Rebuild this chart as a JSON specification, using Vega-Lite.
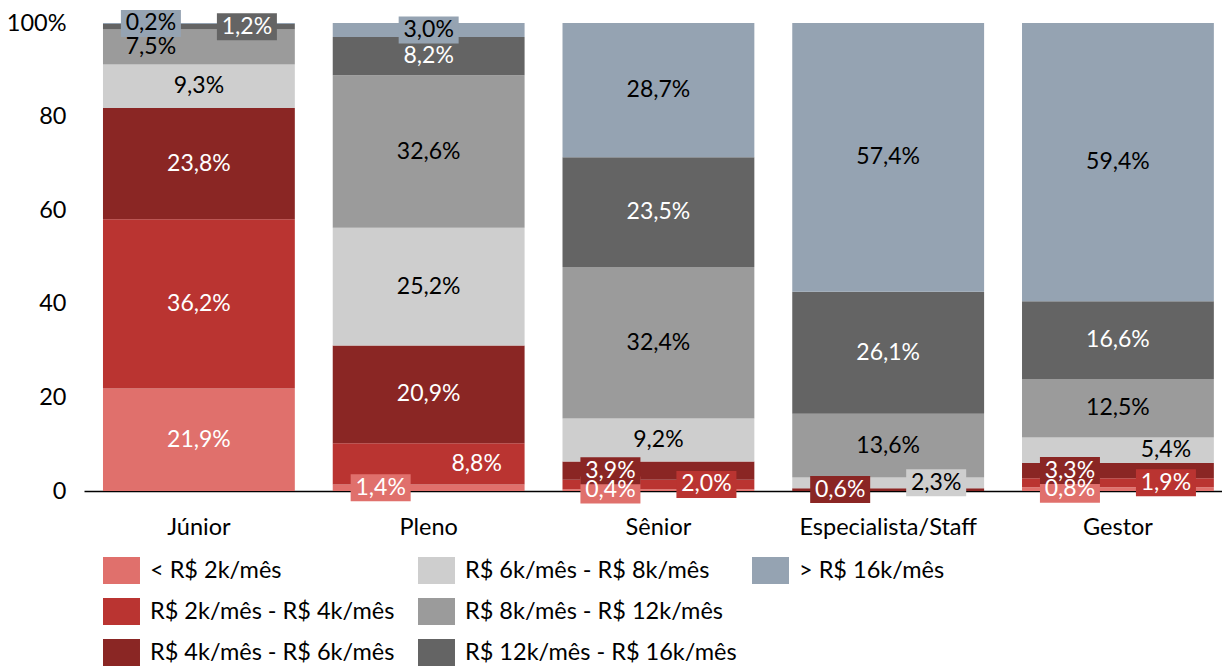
{
  "$schema": "https://vega.github.io/schema/vega-lite/v6.json",
  "autosize": {"type": "none"},
  "padding": {"left": 84, "top": 23, "right": 0, "bottom": 175},
  "width": 1138,
  "height": 468,
  "config": {
    "view": {"stroke": null},
    "font": "Lato",
    "axis": {"labelColor": "#000000", "labelFont": "Lato", "grid": false, "ticks": false, "title": null},
    "legend": {
      "orient": "none",
      "direction": "vertical",
      "title": null,
      "labelFont": "Lato",
      "labelFontSize": 23.5,
      "labelColor": "#000000",
      "labelLimit": 500,
      "symbolType": "M-1.37,-1H1.37V1H-1.37Z",
      "symbolSize": 729,
      "symbolStrokeWidth": 0,
      "symbolOpacity": 1,
      "labelOffset": 15,
      "rowPadding": 14,
      "padding": 0
    }
  },
  "data": {
    "values": [
      {"nivel": "Júnior", "faixa": "< R$ 2k/mês", "pct": 21.9},
      {"nivel": "Júnior", "faixa": "R$ 2k/mês - R$ 4k/mês", "pct": 36.2},
      {"nivel": "Júnior", "faixa": "R$ 4k/mês - R$ 6k/mês", "pct": 23.8},
      {"nivel": "Júnior", "faixa": "R$ 6k/mês - R$ 8k/mês", "pct": 9.3},
      {"nivel": "Júnior", "faixa": "R$ 8k/mês - R$ 12k/mês", "pct": 7.5},
      {"nivel": "Júnior", "faixa": "R$ 12k/mês - R$ 16k/mês", "pct": 1.2},
      {"nivel": "Júnior", "faixa": "> R$ 16k/mês", "pct": 0.2},
      {"nivel": "Pleno", "faixa": "< R$ 2k/mês", "pct": 1.4},
      {"nivel": "Pleno", "faixa": "R$ 2k/mês - R$ 4k/mês", "pct": 8.8},
      {"nivel": "Pleno", "faixa": "R$ 4k/mês - R$ 6k/mês", "pct": 20.9},
      {"nivel": "Pleno", "faixa": "R$ 6k/mês - R$ 8k/mês", "pct": 25.2},
      {"nivel": "Pleno", "faixa": "R$ 8k/mês - R$ 12k/mês", "pct": 32.6},
      {"nivel": "Pleno", "faixa": "R$ 12k/mês - R$ 16k/mês", "pct": 8.2},
      {"nivel": "Pleno", "faixa": "> R$ 16k/mês", "pct": 3.0},
      {"nivel": "Sênior", "faixa": "< R$ 2k/mês", "pct": 0.4},
      {"nivel": "Sênior", "faixa": "R$ 2k/mês - R$ 4k/mês", "pct": 2.0},
      {"nivel": "Sênior", "faixa": "R$ 4k/mês - R$ 6k/mês", "pct": 3.9},
      {"nivel": "Sênior", "faixa": "R$ 6k/mês - R$ 8k/mês", "pct": 9.2},
      {"nivel": "Sênior", "faixa": "R$ 8k/mês - R$ 12k/mês", "pct": 32.4},
      {"nivel": "Sênior", "faixa": "R$ 12k/mês - R$ 16k/mês", "pct": 23.5},
      {"nivel": "Sênior", "faixa": "> R$ 16k/mês", "pct": 28.7},
      {"nivel": "Especialista/Staff", "faixa": "< R$ 2k/mês", "pct": 0},
      {"nivel": "Especialista/Staff", "faixa": "R$ 2k/mês - R$ 4k/mês", "pct": 0},
      {"nivel": "Especialista/Staff", "faixa": "R$ 4k/mês - R$ 6k/mês", "pct": 0.6},
      {"nivel": "Especialista/Staff", "faixa": "R$ 6k/mês - R$ 8k/mês", "pct": 2.3},
      {"nivel": "Especialista/Staff", "faixa": "R$ 8k/mês - R$ 12k/mês", "pct": 13.6},
      {"nivel": "Especialista/Staff", "faixa": "R$ 12k/mês - R$ 16k/mês", "pct": 26.1},
      {"nivel": "Especialista/Staff", "faixa": "> R$ 16k/mês", "pct": 57.4},
      {"nivel": "Gestor", "faixa": "< R$ 2k/mês", "pct": 0.8},
      {"nivel": "Gestor", "faixa": "R$ 2k/mês - R$ 4k/mês", "pct": 1.9},
      {"nivel": "Gestor", "faixa": "R$ 4k/mês - R$ 6k/mês", "pct": 3.3},
      {"nivel": "Gestor", "faixa": "R$ 6k/mês - R$ 8k/mês", "pct": 5.4},
      {"nivel": "Gestor", "faixa": "R$ 8k/mês - R$ 12k/mês", "pct": 12.5},
      {"nivel": "Gestor", "faixa": "R$ 12k/mês - R$ 16k/mês", "pct": 16.6},
      {"nivel": "Gestor", "faixa": "> R$ 16k/mês", "pct": 59.4}
    ]
  },
  "transform": [
    {"calculate": "indexof(['< R$ 2k/mês','R$ 2k/mês - R$ 4k/mês','R$ 4k/mês - R$ 6k/mês','R$ 6k/mês - R$ 8k/mês','R$ 8k/mês - R$ 12k/mês','R$ 12k/mês - R$ 16k/mês','> R$ 16k/mês'], datum.faixa)", "as": "k"},
    {"stack": "pct", "groupby": ["nivel"], "sort": [{"field": "k", "order": "ascending"}], "offset": "normalize", "as": ["y0", "y1"]},
    {"calculate": "(datum.y0 + datum.y1) / 2", "as": "mid"},
    {"calculate": "replace(format(datum.pct, '.1f'), '.', ',') + '%'", "as": "rotulo"},
    {"calculate": "datum.nivel == 'Júnior' ? (datum.k == 6 || datum.k == 4 ? 'L' : datum.k == 5 ? 'R' : 'C') : datum.nivel == 'Pleno' ? (datum.k == 0 ? 'L' : datum.k == 1 ? 'R' : 'C') : datum.nivel == 'Sênior' ? (datum.k == 0 || datum.k == 2 ? 'L' : datum.k == 1 ? 'R' : 'C') : datum.nivel == 'Especialista/Staff' ? (datum.k == 2 ? 'L' : datum.k == 3 ? 'R' : 'C') : (datum.k == 0 || datum.k == 2 ? 'L' : datum.k == 1 || datum.k == 3 ? 'R' : 'C')", "as": "lado"}
  ],
  "encoding": {
    "x": {
      "field": "nivel",
      "type": "nominal",
      "sort": ["Júnior", "Pleno", "Sênior", "Especialista/Staff", "Gestor"],
      "scale": {"paddingInner": 0.165, "paddingOuter": 0.059, "align": 0.7},
      "axis": {"labelAngle": 0, "labelFontSize": 23.5, "labelPadding": 24, "domain": true, "domainColor": "#000000", "domainWidth": 1.3, "title": null}
    }
  },
  "layer": [
    {
      "transform": [{"filter": "datum.k <= 2"}],
      "mark": {"type": "bar"},
      "encoding": {
        "y": {"field": "y0", "type": "quantitative", "scale": {"domain": [0, 1], "nice": false, "zero": true},
          "axis": {"values": [0, 0.2, 0.4, 0.6, 0.8, 1], "labelExpr": "datum.value == 1 ? '100%' : format(datum.value * 100, 'd')", "labelFontSize": 23.5, "labelPadding": 18, "domain": false, "ticks": false, "grid": false, "title": null}},
        "y2": {"field": "y1"},
        "color": {"field": "faixa", "type": "nominal",
          "scale": {"domain": ["< R$ 2k/mês", "R$ 2k/mês - R$ 4k/mês", "R$ 4k/mês - R$ 6k/mês"], "range": ["#E0706C", "#BA3431", "#8A2624"]},
          "legend": {"legendX": 24, "legendY": 534}}
      }
    },
    {
      "transform": [{"filter": "datum.k >= 3 && datum.k <= 5"}],
      "mark": {"type": "bar"},
      "encoding": {
        "y": {"field": "y0", "type": "quantitative",
          "axis": {"values": [0, 0.2, 0.4, 0.6, 0.8, 1], "labelExpr": "datum.value == 1 ? '100%' : format(datum.value * 100, 'd')", "labelFontSize": 23.5, "labelPadding": 18, "domain": false, "ticks": false, "grid": false, "title": null}},
        "y2": {"field": "y1"},
        "color": {"field": "faixa", "type": "nominal",
          "scale": {"domain": ["R$ 6k/mês - R$ 8k/mês", "R$ 8k/mês - R$ 12k/mês", "R$ 12k/mês - R$ 16k/mês"], "range": ["#CECECE", "#9B9B9B", "#646464"]},
          "legend": {"legendX": 339, "legendY": 534}}
      }
    },
    {
      "transform": [{"filter": "datum.k == 6"}],
      "mark": {"type": "bar"},
      "encoding": {
        "y": {"field": "y0", "type": "quantitative",
          "axis": {"values": [0, 0.2, 0.4, 0.6, 0.8, 1], "labelExpr": "datum.value == 1 ? '100%' : format(datum.value * 100, 'd')", "labelFontSize": 23.5, "labelPadding": 18, "domain": false, "ticks": false, "grid": false, "title": null}},
        "y2": {"field": "y1"},
        "color": {"field": "faixa", "type": "nominal",
          "scale": {"domain": ["> R$ 16k/mês"], "range": ["#95A3B2"]},
          "legend": {"legendX": 673, "legendY": 534}}
      }
    },
    {
      "transform": [{"filter": "datum.pct > 0 && datum.pct < 4"}],
      "mark": {"type": "point", "filled": true, "opacity": 1, "size": 729, "strokeWidth": 0},
      "encoding": {
        "y": {"field": "mid", "type": "quantitative",
          "axis": {"values": [0, 0.2, 0.4, 0.6, 0.8, 1], "labelExpr": "datum.value == 1 ? '100%' : format(datum.value * 100, 'd')", "labelFontSize": 23.5, "labelPadding": 18, "domain": false, "ticks": false, "grid": false, "title": null}},
        "shape": {"field": "lado", "type": "nominal",
          "scale": {"domain": ["L", "C", "R"], "range": ["M-5.778,-1H-1.333V1H-5.778Z", "M-2.222,-1H2.222V1H-2.222Z", "M1.333,-1H5.778V1H1.333Z"]},
          "legend": null},
        "fill": {"field": "faixa", "type": "nominal",
          "scale": {"domain": ["< R$ 2k/mês", "R$ 2k/mês - R$ 4k/mês", "R$ 4k/mês - R$ 6k/mês", "R$ 6k/mês - R$ 8k/mês", "R$ 8k/mês - R$ 12k/mês", "R$ 12k/mês - R$ 16k/mês", "> R$ 16k/mês"],
            "range": ["#E0706C", "#BA3431", "#8A2624", "#CECECE", "#9B9B9B", "#646464", "#95A3B2"]},
          "legend": null}
      }
    },
    {
      "transform": [{"filter": "datum.pct > 0 && datum.lado == 'C'"}],
      "mark": {"type": "text", "font": "Lato", "fontSize": 23, "align": "center", "baseline": "middle"},
      "encoding": {
        "y": {"field": "mid", "type": "quantitative"},
        "text": {"field": "rotulo"},
        "fill": {"condition": {"test": "datum.k <= 2 || datum.k == 5", "value": "#FFFFFF"}, "value": "#000000"}
      }
    },
    {
      "transform": [{"filter": "datum.pct > 0 && datum.lado == 'L'"}],
      "mark": {"type": "text", "font": "Lato", "fontSize": 23, "align": "center", "baseline": "middle", "dx": -48},
      "encoding": {
        "y": {"field": "mid", "type": "quantitative"},
        "text": {"field": "rotulo"},
        "fill": {"condition": {"test": "datum.k <= 2 || datum.k == 5", "value": "#FFFFFF"}, "value": "#000000"}
      }
    },
    {
      "transform": [{"filter": "datum.pct > 0 && datum.lado == 'R'"}],
      "mark": {"type": "text", "font": "Lato", "fontSize": 23, "align": "center", "baseline": "middle", "dx": 48},
      "encoding": {
        "y": {"field": "mid", "type": "quantitative"},
        "text": {"field": "rotulo"},
        "fill": {"condition": {"test": "datum.k <= 2 || datum.k == 5", "value": "#FFFFFF"}, "value": "#000000"}
      }
    }
  ],
  "resolve": {"scale": {"color": "independent"}}
}
